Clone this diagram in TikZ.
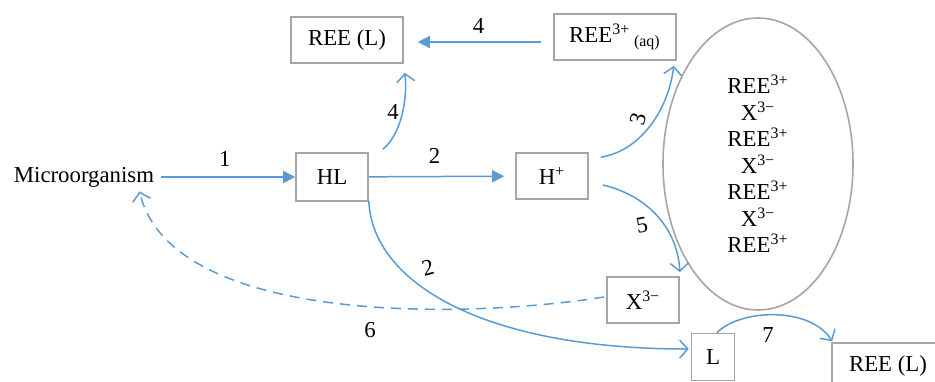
\documentclass[tikz,border=0pt]{standalone}
\usepackage{fontspec}
\setmainfont{Liberation Serif}
\usepackage{tikz}
\usetikzlibrary{shapes}
\usetikzlibrary{arrows.meta}
\definecolor{flowblue}{RGB}{91,155,213}
\definecolor{boxgray}{RGB}{166,166,166}
\tikzset{
  box node/.style={rectangle,draw=boxgray,line width=0.8pt,inner sep=0pt},
  pool node/.style={ellipse,draw=boxgray,line width=0.8pt,inner sep=0pt,align=center},
  flow/.style={draw=flowblue,line width=0.75pt},
  straight/.style={flow,-{Triangle[length=6pt,width=6pt]}},
  curved/.style={flow,-{Straight Barb[length=4pt,width=9pt]}},
  num/.style={inner sep=0pt}
}
\newcommand{\ree}{REE\textsuperscript{3+}}
\newcommand{\xion}{X\textsuperscript{3−}}

\begin{document}
\begin{tikzpicture}[x=0.5pt,y=0.5pt,font=\fontsize{11.4}{13.25}\selectfont]
  \fill[white] (0,0) rectangle (935,381);
  \useasboundingbox (0,0) rectangle (935,381);
  \clip (0,0) rectangle (935,381);
  % species
  \node [inner sep=0pt] (micro) at (84,204) {Microorganism};
  \node [box node,minimum width=36pt,minimum height=24pt] (hl) at (332,204) {HL};
  \node [box node,minimum width=36pt,minimum height=23pt] (hp) at (552,205) {H\textsuperscript{+}};
  \node [box node,minimum width=56pt,minimum height=23pt] (reel) at (347,341) {REE (L)};
  \node [box node,minimum width=61pt,minimum height=23pt] (reeaq) at (615,344) {\ree\,\textsubscript{(aq)}};
  \node [pool node,minimum width=95pt,minimum height=146pt] (pool) at (758,217)
    {\ree\\\xion\\\ree\\\xion\\\ree\\\xion\\\ree};
  \node [box node,minimum width=36pt,minimum height=23pt] (xm) at (643,81) {\xion};
  \node [box node,minimum width=21.5pt,minimum height=23.5pt] (lig) at (713,24) {L};
  \node [box node,minimum width=56pt,minimum height=23pt] (reeb) at (888,15) {REE (L)};
  % steps
  \draw [straight,shorten <=3.5pt] (micro) -- (hl) node [num,midway,above=5pt] {1};
  \draw [straight,shorten >=5.5pt] (hl) -- (hp) node [num,pos=0.45,above=6pt] {2};
  \draw [straight,shorten <=6pt,shorten >=7pt] ([yshift=-2.5pt]reeaq.west) -- ([yshift=-1pt]reel.east)
    node [num,midway,above=4pt] {4};
  \draw [curved] ([shift={(14,3)}]hl.north east) .. controls (400,245) and (408,280) .. ([shift={(1,-9)}]reel.south east);
  \node [num] (n4) at (393,269) {4};
  \draw [curved] ([shift={(12,-5)}]hp.north east) .. controls (640,230) and (668,270) .. ([shift={(-3,-5)}]reeaq.south east);
  \node [num,rotate=75] (n3) at (638,262) {3};
  \draw [curved] ([shift={(14,-9)}]hp.east) .. controls (650,185) and (678,150) .. ([shift={(0,4)}]xm.north east);
  \node [num,rotate=10] (n5) at (642,156) {5};
  \draw [curved,dash pattern=on 5pt off 3.5pt] ([shift={(-2,3)}]xm.west) .. controls (450,60) and (170,60) .. ([shift={(-15,-4)}]micro.south east);
  \node [num] (n6) at (370,51) {6};
  \draw [curved] ([shift={(0,1)}]hl.south east) .. controls (372,100) and (480,32) .. ([shift={(-2,8)}]lig.west);
  \node [num,rotate=15] (n2) at (428,113) {2};
  \draw [curved] ([shift={(4,0)}]lig.north) .. controls (740,72) and (810,75) .. ([shift={(1,1)}]reeb.north west);
  \node [num] (n7) at (768,46) {7};
\end{tikzpicture}
\end{document}
